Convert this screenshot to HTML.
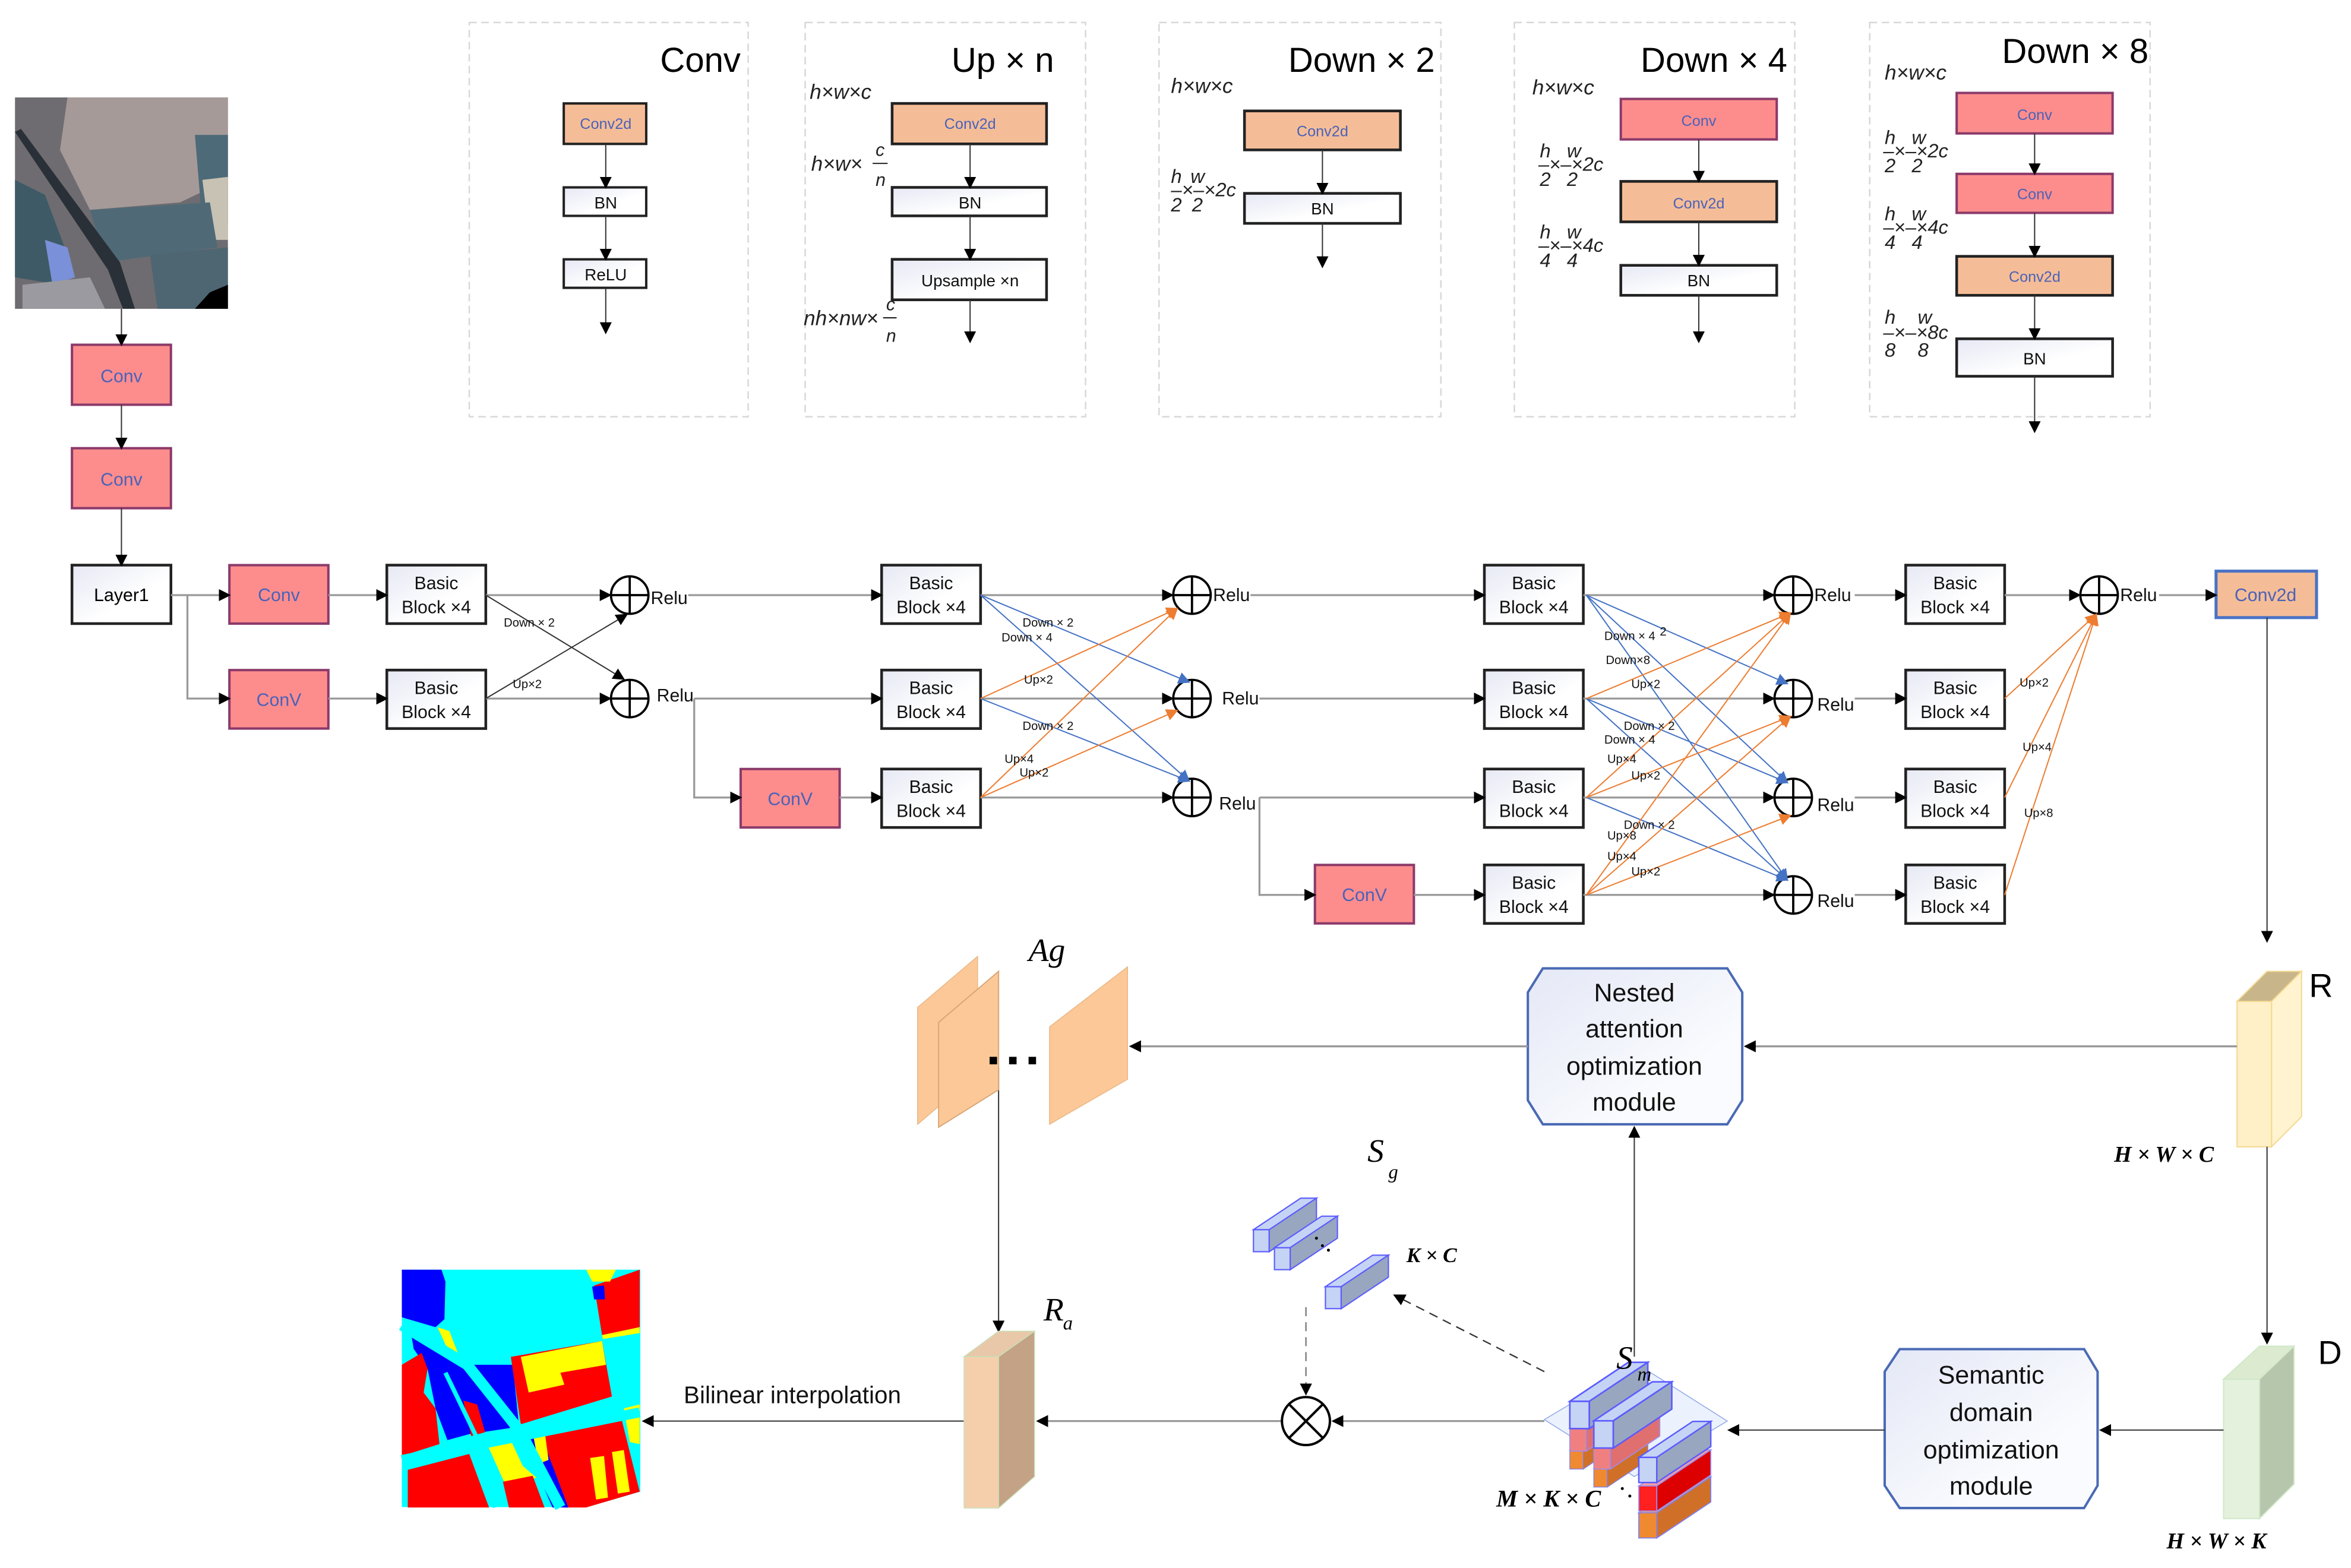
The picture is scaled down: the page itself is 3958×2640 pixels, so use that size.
<!DOCTYPE html>
<html><head><meta charset="utf-8"><style>
html,body{margin:0;padding:0;background:#fff;}
svg{display:block;}
text{font-family:"Liberation Sans",sans-serif;}
.m{font-family:"Liberation Serif",serif;font-style:italic;}
</style></head><body>
<svg xmlns="http://www.w3.org/2000/svg" width="3958" height="2640" viewBox="0 0 1568 1046" preserveAspectRatio="none">
<defs>
<marker id="ak" markerWidth="8" markerHeight="8" refX="7" refY="4" orient="auto" markerUnits="userSpaceOnUse"><path d="M0,0 L8,4 L0,8z" fill="#000"/></marker>
<marker id="ab" markerWidth="8" markerHeight="8" refX="7" refY="4" orient="auto" markerUnits="userSpaceOnUse"><path d="M0,0 L8,4 L0,8z" fill="#4472c4"/></marker>
<marker id="ao" markerWidth="8" markerHeight="8" refX="7" refY="4" orient="auto" markerUnits="userSpaceOnUse"><path d="M0,0 L8,4 L0,8z" fill="#ed7d31"/></marker>
<linearGradient id="wg" x1="0" y1="0" x2="1" y2="1"><stop offset="0" stop-color="#e6e8f4"/><stop offset="0.6" stop-color="#fff"/></linearGradient>
<linearGradient id="og" x1="0" y1="0" x2="1" y2="1"><stop offset="0" stop-color="#e4e8f6"/><stop offset="0.7" stop-color="#fafbfe"/></linearGradient>
<g id="bbar"><polygon points="0,6 10,6 10,20 0,20" fill="#c5d3f5" stroke="#5b5bff" stroke-width="0.8"/><polygon points="0,6 10,6 40,-14 30,-14" fill="#c5d3f5" stroke="#5b5bff" stroke-width="0.8"/><polygon points="10,6 40,-14 40,0 10,20" fill="#98a6c0" stroke="#5b5bff" stroke-width="0.8"/></g>
<g id="rbar"><polygon points="0,6 10,6 10,20 0,20" fill="#f08080" stroke="#9b8cf0" stroke-width="0.6"/><polygon points="0,6 10,6 40,-14 30,-14" fill="#f4a0a0" stroke="#9b8cf0" stroke-width="0.6"/><polygon points="10,6 40,-14 40,0 10,20" fill="#e07070" stroke="#9b8cf0" stroke-width="0.6"/></g>
<g id="rbar2"><polygon points="0,6 10,6 10,20 0,20" fill="#ff2020" stroke="#9b8cf0" stroke-width="0.6"/><polygon points="0,6 10,6 40,-14 30,-14" fill="#f4a0a0" stroke="#9b8cf0" stroke-width="0.6"/><polygon points="10,6 40,-14 40,0 10,20" fill="#dd0000" stroke="#9b8cf0" stroke-width="0.6"/></g>
<g id="obar"><polygon points="0,6 10,6 10,20 0,20" fill="#f08a30" stroke="#8080f0" stroke-width="0.6"/><polygon points="0,6 10,6 40,-14 30,-14" fill="#f5a060" stroke="#8080f0" stroke-width="0.6"/><polygon points="10,6 40,-14 40,0 10,20" fill="#d07028" stroke="#8080f0" stroke-width="0.6"/></g>
</defs>

<!-- ===== top dashed panels ===== -->
<g fill="none" stroke="#d8d8d8" stroke-width="1" stroke-dasharray="5,3">
<rect x="313" y="15" width="186" height="263"/>
<rect x="537" y="15" width="187" height="263"/>
<rect x="773" y="15" width="188" height="263"/>
<rect x="1010" y="15" width="187" height="263"/>
<rect x="1247" y="15" width="187" height="263"/>
</g>
<g font-size="23" text-anchor="end" fill="#000">
<text x="494" y="48">Conv</text>
<text x="703" y="48">Up × n</text>
<text x="957" y="48">Down × 2</text>
<text x="1192" y="48">Down × 4</text>
<text x="1433" y="42">Down × 8</text>
</g>

<g stroke-width="1.2">
<rect x="376" y="69" width="55" height="27" fill="#f5bd97" stroke="#222" stroke-width="1.6"/>
<rect x="376" y="125" width="55" height="19" fill="url(#wg)" stroke="#222" stroke-width="1.6"/>
<rect x="376" y="173" width="55" height="19" fill="url(#wg)" stroke="#222" stroke-width="1.6"/>
<rect x="595" y="69" width="103" height="27" fill="#f5bd97" stroke="#222" stroke-width="1.8"/>
<rect x="595" y="125" width="103" height="19" fill="url(#wg)" stroke="#222" stroke-width="1.8"/>
<rect x="595" y="173" width="103" height="27" fill="url(#wg)" stroke="#222" stroke-width="1.8"/>
<rect x="830" y="74" width="104" height="26" fill="#f5bd97" stroke="#222" stroke-width="1.8"/>
<rect x="830" y="129" width="104" height="20" fill="url(#wg)" stroke="#222" stroke-width="1.8"/>
<rect x="1081" y="66" width="104" height="27" fill="#fd8d8d" stroke="#8b3a6a" stroke-width="1.6"/>
<rect x="1081" y="121" width="104" height="27" fill="#f5bd97" stroke="#222" stroke-width="1.8"/>
<rect x="1081" y="177" width="104" height="20" fill="url(#wg)" stroke="#222" stroke-width="1.8"/>
<rect x="1305" y="62" width="104" height="27" fill="#fd8d8d" stroke="#8b3a6a" stroke-width="1.6"/>
<rect x="1305" y="116" width="104" height="26" fill="#fd8d8d" stroke="#8b3a6a" stroke-width="1.6"/>
<rect x="1305" y="171" width="104" height="26" fill="#f5bd97" stroke="#222" stroke-width="1.8"/>
<rect x="1305" y="226" width="104" height="25" fill="url(#wg)" stroke="#222" stroke-width="1.8"/>
</g>
<g font-size="10" text-anchor="middle" fill="#4a62b8">
<text x="404" y="86">Conv2d</text>
<text x="647" y="86">Conv2d</text>
<text x="882" y="91">Conv2d</text>
<text x="1133" y="84">Conv</text>
<text x="1133" y="139">Conv2d</text>
<text x="1357" y="80">Conv</text>
<text x="1357" y="133">Conv</text>
<text x="1357" y="188">Conv2d</text>
</g>
<g font-size="11" text-anchor="middle" fill="#111">
<text x="404" y="139">BN</text>
<text x="404" y="187">ReLU</text>
<text x="647" y="139">BN</text>
<text x="647" y="191">Upsample ×n</text>
<text x="882" y="143">BN</text>
<text x="1133" y="191">BN</text>
<text x="1357" y="243">BN</text>
</g>
<g stroke="#333" stroke-width="0.8" marker-end="url(#ak)">
<line x1="404" y1="96" x2="404" y2="125"/>
<line x1="404" y1="144" x2="404" y2="173"/>
<line x1="404" y1="192" x2="404" y2="222"/>
<line x1="647" y1="96" x2="647" y2="125"/>
<line x1="647" y1="144" x2="647" y2="173"/>
<line x1="647" y1="200" x2="647" y2="228"/>
<line x1="882" y1="100" x2="882" y2="129"/>
<line x1="882" y1="149" x2="882" y2="178"/>
<line x1="1133" y1="93" x2="1133" y2="121"/>
<line x1="1133" y1="148" x2="1133" y2="177"/>
<line x1="1133" y1="197" x2="1133" y2="228"/>
<line x1="1357" y1="89" x2="1357" y2="116"/>
<line x1="1357" y1="142" x2="1357" y2="171"/>
<line x1="1357" y1="197" x2="1357" y2="226"/>
<line x1="1357" y1="251" x2="1357" y2="288"/>
</g>
<!-- math labels -->
<g class="m" font-size="14" fill="#222">
<text x="540" y="66">h×w×c</text>
<text x="541" y="114">h×w×</text><text x="584" y="104" font-size="12">c</text><line x1="582" y1="109" x2="592" y2="109" stroke="#222" stroke-width="0.8"/><text x="584" y="124" font-size="12">n</text>
<text x="536" y="217">nh×nw×</text><text x="591" y="207" font-size="12">c</text><line x1="589" y1="212" x2="598" y2="212" stroke="#222" stroke-width="0.8"/><text x="591" y="228" font-size="12">n</text>
<text x="781" y="62">h×w×c</text>
<text x="1022" y="63">h×w×c</text>
<text x="1257" y="53">h×w×c</text>
</g>
<g class="m" font-size="13" fill="#222">
<text x="781" y="122">h</text><text x="794" y="122">w</text><text x="781" y="131">–×–×2c</text><text x="781" y="141">2</text><text x="795" y="141">2</text>
<text x="1027" y="105">h</text><text x="1045" y="105">w</text><text x="1026" y="114">–×–×2c</text><text x="1027" y="124">2</text><text x="1045" y="124">2</text>
<text x="1027" y="159">h</text><text x="1045" y="159">w</text><text x="1026" y="168">–×–×4c</text><text x="1027" y="178">4</text><text x="1045" y="178">4</text>
<text x="1257" y="96">h</text><text x="1275" y="96">w</text><text x="1256" y="105">–×–×2c</text><text x="1257" y="115">2</text><text x="1275" y="115">2</text>
<text x="1257" y="147">h</text><text x="1275" y="147">w</text><text x="1256" y="156">–×–×4c</text><text x="1257" y="166">4</text><text x="1275" y="166">4</text>
<text x="1257" y="216">h</text><text x="1279" y="216">w</text><text x="1256" y="226">–×–×8c</text><text x="1257" y="238">8</text><text x="1279" y="238">8</text>
</g>

<!-- ===== satellite image ===== -->
<g>
<rect x="10" y="65" width="142" height="141" fill="#6e6c70"/>
<polygon points="45,65 152,65 152,120 120,135 60,140 40,100" fill="#a59a98"/>
<polygon points="130,90 152,90 152,150 135,150" fill="#4d6a78"/>
<polygon points="135,120 152,118 152,160 140,160" fill="#c8c2b4"/>
<polygon points="60,140 140,135 145,165 70,175" fill="#4f6a76"/>
<polygon points="100,170 152,165 152,206 105,206" fill="#4e6672"/>
<polygon points="10,120 30,130 45,170 40,190 10,185" fill="#3e5a66"/>
<polygon points="30,160 45,165 50,185 35,190" fill="#7a90d8"/>
<polygon points="15,190 60,185 70,206 15,206" fill="#9a9aa0"/>
<polygon points="10,88 14,86 80,175 90,206 82,206 72,180" fill="#2a3038"/>
<polygon points="140,195 152,190 152,206 130,206" fill="#000"/>
</g>

<!-- ===== left column ===== -->
<rect x="48" y="230" width="66" height="40" fill="#fd8d8d" stroke="#8b3a6a" stroke-width="1.6"/>
<rect x="48" y="299" width="66" height="40" fill="#fd8d8d" stroke="#8b3a6a" stroke-width="1.6"/>
<rect x="48" y="377" width="66" height="39" fill="url(#wg)" stroke="#222" stroke-width="1.8"/>
<g font-size="12" text-anchor="middle" fill="#4a62b8">
<text x="81" y="255">Conv</text><text x="81" y="324">Conv</text>
</g>
<text x="81" y="401" font-size="12" text-anchor="middle">Layer1</text>
<g stroke="#333" stroke-width="0.8" marker-end="url(#ak)">
<line x1="81" y1="206" x2="81" y2="230"/>
<line x1="81" y1="270" x2="81" y2="299"/>
<line x1="81" y1="339" x2="81" y2="377"/>
</g>

<!-- ===== main grid boxes ===== -->
<g stroke-width="1.6">
<rect x="153" y="377" width="66" height="39" fill="#fd8d8d" stroke="#8b3a6a"/>
<rect x="153" y="447" width="66" height="39" fill="#fd8d8d" stroke="#8b3a6a"/>
<rect x="494" y="513" width="66" height="39" fill="#fd8d8d" stroke="#8b3a6a"/>
<rect x="877" y="577" width="66" height="39" fill="#fd8d8d" stroke="#8b3a6a"/>
<rect x="1478" y="381" width="67" height="31" fill="#f5bd97" stroke="#4a72c4" stroke-width="2"/>
</g>
<g font-size="12" text-anchor="middle" fill="#4a62b8">
<text x="186" y="401">Conv</text><text x="186" y="471">ConV</text>
<text x="527" y="537">ConV</text><text x="910" y="601">ConV</text>
<text x="1511" y="401">Conv2d</text>
</g>
<g fill="url(#wg)" stroke="#222" stroke-width="1.8">
<rect x="258" y="377" width="66" height="39"/><rect x="258" y="447" width="66" height="39"/>
<rect x="588" y="377" width="66" height="39"/><rect x="588" y="447" width="66" height="39"/><rect x="588" y="513" width="66" height="39"/>
<rect x="990" y="377" width="66" height="39"/><rect x="990" y="447" width="66" height="39"/><rect x="990" y="513" width="66" height="39"/><rect x="990" y="577" width="66" height="39"/>
<rect x="1271" y="377" width="66" height="39"/><rect x="1271" y="447" width="66" height="39"/><rect x="1271" y="513" width="66" height="39"/><rect x="1271" y="577" width="66" height="39"/>
</g>
<g font-size="12" text-anchor="middle" fill="#111">
<text x="291" y="393">Basic</text><text x="291" y="409">Block ×4</text>
<text x="291" y="463">Basic</text><text x="291" y="479">Block ×4</text>
<text x="621" y="393">Basic</text><text x="621" y="409">Block ×4</text>
<text x="621" y="463">Basic</text><text x="621" y="479">Block ×4</text>
<text x="621" y="529">Basic</text><text x="621" y="545">Block ×4</text>
<text x="1023" y="393">Basic</text><text x="1023" y="409">Block ×4</text>
<text x="1023" y="463">Basic</text><text x="1023" y="479">Block ×4</text>
<text x="1023" y="529">Basic</text><text x="1023" y="545">Block ×4</text>
<text x="1023" y="593">Basic</text><text x="1023" y="609">Block ×4</text>
<text x="1304" y="393">Basic</text><text x="1304" y="409">Block ×4</text>
<text x="1304" y="463">Basic</text><text x="1304" y="479">Block ×4</text>
<text x="1304" y="529">Basic</text><text x="1304" y="545">Block ×4</text>
<text x="1304" y="593">Basic</text><text x="1304" y="609">Block ×4</text>
</g>

<g fill="#fff" stroke="#000" stroke-width="1.5">
<circle cx="420" cy="397" r="12.5"/><circle cx="420" cy="466" r="12.5"/>
<circle cx="795" cy="397" r="12.5"/><circle cx="795" cy="466" r="12.5"/><circle cx="795" cy="532" r="12.5"/>
<circle cx="1196" cy="397" r="12.5"/><circle cx="1196" cy="466" r="12.5"/><circle cx="1196" cy="532" r="12.5"/><circle cx="1196" cy="597" r="12.5"/>
<circle cx="1400" cy="397" r="12.5"/>
</g>
<g stroke="#000" stroke-width="1.5">
<path d="M407.5,397h25M420,384.5v25M407.5,466h25M420,453.5v25"/>
<path d="M782.5,397h25M795,384.5v25M782.5,466h25M795,453.5v25M782.5,532h25M795,519.5v25"/>
<path d="M1183.5,397h25M1196,384.5v25M1183.5,466h25M1196,453.5v25M1183.5,532h25M1196,519.5v25M1183.5,597h25M1196,584.5v25"/>
<path d="M1387.5,397h25M1400,384.5v25"/>
</g>
<g font-size="12" fill="#111">
<text x="434" y="403">Relu</text><text x="438" y="468">Relu</text>
<text x="809" y="401">Relu</text><text x="815" y="470">Relu</text><text x="813" y="540">Relu</text>
<text x="1210" y="401">Relu</text><text x="1212" y="474">Relu</text><text x="1212" y="541">Relu</text><text x="1212" y="605">Relu</text>
<text x="1414" y="401">Relu</text>
</g>

<g stroke="#999" stroke-width="1.3" fill="none" marker-end="url(#ak)">
<line x1="114" y1="397" x2="153" y2="397"/>
<polyline points="125,397 125,466 153,466"/>
<line x1="219" y1="397" x2="258" y2="397"/><line x1="219" y1="466" x2="258" y2="466"/>
<line x1="324" y1="397" x2="407" y2="397"/><line x1="324" y1="466" x2="407" y2="466"/>
<line x1="459" y1="397" x2="588" y2="397"/><line x1="463" y1="466" x2="588" y2="466"/>
<polyline points="463,466 463,532 494,532"/>
<line x1="560" y1="532" x2="588" y2="532"/>
<line x1="654" y1="397" x2="782" y2="397"/><line x1="654" y1="466" x2="782" y2="466"/><line x1="654" y1="532" x2="782" y2="532"/>
<line x1="834" y1="397" x2="990" y2="397"/><line x1="840" y1="466" x2="990" y2="466"/><line x1="840" y1="532" x2="990" y2="532"/>
<polyline points="840,532 840,597 877,597"/>
<line x1="943" y1="597" x2="990" y2="597"/>
<line x1="1056" y1="397" x2="1183" y2="397"/><line x1="1056" y1="466" x2="1183" y2="466"/><line x1="1056" y1="532" x2="1183" y2="532"/><line x1="1056" y1="597" x2="1183" y2="597"/>
<line x1="1237" y1="397" x2="1271" y2="397"/><line x1="1237" y1="466" x2="1271" y2="466"/><line x1="1237" y1="532" x2="1271" y2="532"/><line x1="1237" y1="597" x2="1271" y2="597"/>
<line x1="1337" y1="397" x2="1387" y2="397"/>
<line x1="1440" y1="397" x2="1478" y2="397"/>
</g>

<g stroke="#333" stroke-width="0.8" fill="none" marker-end="url(#ak)">
<line x1="324" y1="397" x2="416" y2="453"/>
<line x1="324" y1="466" x2="418" y2="410"/>
</g>
<g font-size="8" fill="#111"><text x="336" y="418">Down × 2</text><text x="342" y="459">Up×2</text></g>

<g stroke="#4472c4" stroke-width="0.8" marker-end="url(#ab)">
<line x1="654" y1="397" x2="793" y2="455"/>
<line x1="654" y1="397" x2="793" y2="521"/>
<line x1="654" y1="466" x2="793" y2="521"/>
</g>
<g stroke="#ed7d31" stroke-width="0.8" marker-end="url(#ao)">
<line x1="654" y1="466" x2="785" y2="406"/>
<line x1="654" y1="532" x2="785" y2="406"/>
<line x1="654" y1="532" x2="785" y2="474"/>
</g>
<g font-size="8" fill="#111">
<text x="682" y="418">Down × 2</text><text x="668" y="428">Down × 4</text>
<text x="683" y="456">Up×2</text><text x="682" y="487">Down × 2</text>
<text x="670" y="509">Up×4</text><text x="680" y="518">Up×2</text>
</g>

<g stroke="#4472c4" stroke-width="0.8" marker-end="url(#ab)">
<line x1="1058" y1="397" x2="1192" y2="456"/>
<line x1="1058" y1="397" x2="1192" y2="522"/>
<line x1="1058" y1="397" x2="1192" y2="587"/>
<line x1="1058" y1="466" x2="1192" y2="522"/>
<line x1="1058" y1="466" x2="1192" y2="587"/>
<line x1="1058" y1="532" x2="1192" y2="587"/>
</g>
<g stroke="#ed7d31" stroke-width="0.8" marker-end="url(#ao)">
<line x1="1058" y1="466" x2="1194" y2="409"/>
<line x1="1058" y1="532" x2="1194" y2="409"/>
<line x1="1058" y1="532" x2="1194" y2="478"/>
<line x1="1058" y1="597" x2="1194" y2="409"/>
<line x1="1058" y1="597" x2="1194" y2="478"/>
<line x1="1058" y1="597" x2="1194" y2="544"/>
</g>
<g font-size="8" fill="#111">
<text x="1070" y="427">Down × 4</text><text x="1107" y="424">2</text>
<text x="1071" y="443">Down×8</text><text x="1088" y="459">Up×2</text>
<text x="1083" y="487">Down × 2</text><text x="1070" y="496">Down × 4</text>
<text x="1072" y="509">Up×4</text><text x="1088" y="520">Up×2</text>
<text x="1083" y="553">Down × 2</text><text x="1072" y="560">Up×8</text>
<text x="1072" y="574">Up×4</text><text x="1088" y="584">Up×2</text>
</g>

<g stroke="#ed7d31" stroke-width="0.8" marker-end="url(#ao)">
<line x1="1337" y1="466" x2="1398" y2="410"/>
<line x1="1337" y1="532" x2="1398" y2="410"/>
<line x1="1337" y1="597" x2="1398" y2="410"/>
</g>
<g font-size="8" fill="#111"><text x="1347" y="458">Up×2</text><text x="1349" y="501">Up×4</text><text x="1350" y="545">Up×8</text></g>

<!-- ===== bottom section ===== -->
<line x1="1512" y1="412" x2="1512" y2="628" stroke="#333" stroke-width="0.8" marker-end="url(#ak)"/>
<polygon points="1492,668 1512,648 1535,648 1515,668" fill="#c8b68a" stroke="#f5d890" stroke-width="0.8"/>
<polygon points="1515,668 1535,648 1535,745 1515,765" fill="#fff3d0" stroke="#f5d890" stroke-width="0.8"/>
<rect x="1492" y="668" width="23" height="97" fill="#fff0c8" stroke="#f5d890" stroke-width="0.8"/>
<text x="1540" y="665" font-size="22">R</text>
<text x="1410" y="775" class="m" font-size="15" font-weight="bold">H × W × C</text>
<line x1="1512" y1="765" x2="1512" y2="896" stroke="#333" stroke-width="0.8" marker-end="url(#ak)"/>
<polygon points="1483,920 1507,898 1530,898 1507,920" fill="#dcebd0" stroke="#d0e8c8" stroke-width="0.8"/>
<polygon points="1507,920 1530,898 1530,990 1507,1013" fill="#b6c6ac" stroke="#d0e8c8" stroke-width="0.8"/>
<rect x="1483" y="920" width="24" height="93" fill="#e4f1dc" stroke="#d0e8c8" stroke-width="0.8"/>
<text x="1546" y="910" font-size="22">D</text>
<text x="1445" y="1033" class="m" font-size="15" font-weight="bold">H × W × K</text>

<polygon points="1029,646 1152,646 1162,662 1162,734 1152,750 1029,750 1019,734 1019,662" fill="url(#og)" stroke="#4a6ab4" stroke-width="1.6"/>
<g font-size="17" text-anchor="middle" fill="#111">
<text x="1090" y="668">Nested</text><text x="1090" y="692">attention</text><text x="1090" y="717">optimization</text><text x="1090" y="741">module</text>
</g>
<polygon points="1267,900 1390,900 1399,915 1399,991 1390,1006 1267,1006 1257,991 1257,915" fill="url(#og)" stroke="#4a6ab4" stroke-width="1.6"/>
<g font-size="17" text-anchor="middle" fill="#111">
<text x="1328" y="923">Semantic</text><text x="1328" y="948">domain</text><text x="1328" y="973">optimization</text><text x="1328" y="997">module</text>
</g>
<g stroke="#999" stroke-width="1.3" marker-end="url(#ak)" fill="none">
<line x1="1492" y1="698" x2="1164" y2="698"/>
<line x1="1019" y1="698" x2="754" y2="698"/>
<line x1="1030" y1="948" x2="889" y2="948"/>
<line x1="855" y1="948" x2="692" y2="948"/>
</g>
<g stroke="#333" stroke-width="0.8" marker-end="url(#ak)" fill="none">
<line x1="1483" y1="954" x2="1401" y2="954"/>
<line x1="1257" y1="954" x2="1153" y2="954"/>
<line x1="1090" y1="905" x2="1090" y2="752"/>
<line x1="666" y1="712" x2="666" y2="888"/>
<line x1="643" y1="948" x2="429" y2="948"/>
</g>

<polygon points="612,672 652,638 652,716 612,750" fill="#fdc898" stroke="#e8b888" stroke-width="0.6"/>
<polygon points="626,682 666,648 666,727 626,752" fill="#fdc898" stroke="#d8a878" stroke-width="0.8"/>
<polygon points="700,685 752,645 752,720 700,750" fill="#fdc898" stroke="#e8b888" stroke-width="0.6"/>
<g fill="#000"><rect x="660" y="705" width="5" height="5"/><rect x="673" y="705" width="5" height="5"/><rect x="686" y="705" width="5" height="5"/></g>
<text x="686" y="641" class="m" font-size="22">Ag</text>

<polygon points="643,905 666,888 690,888 666,905" fill="#e8c8a8" stroke="#c8e0b8" stroke-width="0.6"/>
<polygon points="666,905 690,888 690,985 666,1006" fill="#c4a286" stroke="#c8e0b8" stroke-width="0.6"/>
<rect x="643" y="905" width="23" height="101" fill="#f5cfac" stroke="#c8e0b8" stroke-width="0.6"/>
<text x="696" y="881" class="m" font-size="22">R</text><text x="709" y="887" class="m" font-size="13">a</text>

<text x="456" y="936" font-size="16" fill="#111">Bilinear interpolation</text>

<circle cx="871" cy="948" r="16" fill="#fff" stroke="#000" stroke-width="1.6"/>
<path d="M860,937L882,959M882,937L860,959" stroke="#000" stroke-width="1.6"/>
<line x1="871" y1="872" x2="871" y2="930" stroke="#777" stroke-width="0.9" stroke-dasharray="6,4" marker-end="url(#ak)"/>
<line x1="1030" y1="915" x2="930" y2="864" stroke="#333" stroke-width="0.9" stroke-dasharray="6,4" marker-end="url(#ak)"/>

<!-- Sg -->
<use href="#bbar" transform="translate(836,814) scale(1.05)"/>
<use href="#bbar" transform="translate(850,826) scale(1.05)"/>
<use href="#bbar" transform="translate(884,852) scale(1.05)"/>
<circle cx="878" cy="826" r="1" fill="#000"/><circle cx="882" cy="831" r="1" fill="#000"/><circle cx="886" cy="834" r="1" fill="#000"/>
<text x="912" y="775" class="m" font-size="22">S</text><text x="926" y="786" class="m" font-size="13">g</text>
<text x="938" y="842" class="m" font-size="14" font-weight="bold">K × C</text>

<!-- Sm stack -->
<polygon points="1030,947 1092,910 1152,948 1090,985" fill="#dde8fb" fill-opacity="0.55" stroke="#8fa8e8" stroke-width="0.6"/>
<use href="#obar" transform="translate(1047,962) scale(0.9)"/>
<use href="#obar" transform="translate(1063,974) scale(0.9)"/>
<use href="#rbar" transform="translate(1047,946) scale(1.1)"/>
<use href="#rbar" transform="translate(1063,958) scale(1.1)"/>
<use href="#bbar" transform="translate(1047,927) scale(1.3)"/>
<use href="#bbar" transform="translate(1063,940) scale(1.3)"/>
<use href="#obar" transform="translate(1093,1002) scale(1.2)"/>
<use href="#rbar2" transform="translate(1093,984) scale(1.2)"/>
<use href="#bbar" transform="translate(1093,965) scale(1.2)"/>
<circle cx="1082" cy="993" r="1" fill="#000"/><circle cx="1087" cy="998" r="1" fill="#000"/>
<text x="1078" y="913" class="m" font-size="22">S</text><text x="1092" y="921" class="m" font-size="13">m</text>
<text x="998" y="1005" class="m" font-size="16" font-weight="bold">M × K × C</text>

<!-- result map -->
<g transform="translate(268,847) scale(0.1322)">
<rect x="0" y="0" width="1203" height="1198" fill="#00ffff"/>
<polygon points="0,0 200,0 220,60 215,250 170,290 0,240" fill="#0000ff"/>
<polygon points="50,340 330,480 560,480 590,780 540,800 340,830 230,860 170,700 130,500 60,400" fill="#0000ff"/>
<polygon points="0,480 100,420 130,500 110,620 170,700 190,880 0,940" fill="#ff0000"/>
<polygon points="310,660 380,680 420,820 350,840" fill="#ff0000"/>
<polygon points="550,440 1010,360 1060,640 600,780" fill="#ff0000"/>
<polygon points="600,440 1010,360 1030,480 800,520 820,580 640,620" fill="#ffff00"/>
<polygon points="970,80 1200,0 1200,290 1010,330" fill="#ff0000"/>
<polygon points="930,0 1080,0 1050,60 960,60" fill="#ffff00"/>
<polygon points="960,85 1020,80 1025,150 970,150" fill="#0000ff"/>
<polygon points="1010,330 1200,290 1200,320 1015,350" fill="#ffff00"/>
<polygon points="180,290 240,310 290,440 230,400" fill="#ffff00"/>
<polygon points="30,1010 340,930 440,1200 30,1200" fill="#ff0000"/>
<polygon points="430,880 540,840 610,990 680,1050 520,1080" fill="#ffff00"/>
<polygon points="510,1070 660,1040 720,1200 540,1200" fill="#ff0000"/>
<polygon points="700,820 1100,720 1200,1120 930,1200 820,1200" fill="#ff0000"/>
<polygon points="600,830 700,830 840,1200 760,1200" fill="#0000ff"/>
<polygon points="660,820 720,810 740,960 690,980" fill="#ffff00"/>
<polygon points="950,950 1020,940 1040,1150 980,1160" fill="#ffff00"/>
<polygon points="1060,920 1120,910 1150,1120 1090,1130" fill="#ffff00"/>
<polygon points="1120,700 1200,680 1200,880 1150,870" fill="#ffff00"/>
<polyline points="0,280 330,480 600,820 800,1200" fill="none" stroke="#00ffff" stroke-width="55"/>
<polyline points="0,960 300,900 650,830 1200,720" fill="none" stroke="#00ffff" stroke-width="50"/>
<polyline points="220,520 370,830 470,1200" fill="none" stroke="#00ffff" stroke-width="22"/>
<polygon points="930,1200 1203,1120 1203,1200" fill="#fff"/>
</g>
</svg>
</body></html>
